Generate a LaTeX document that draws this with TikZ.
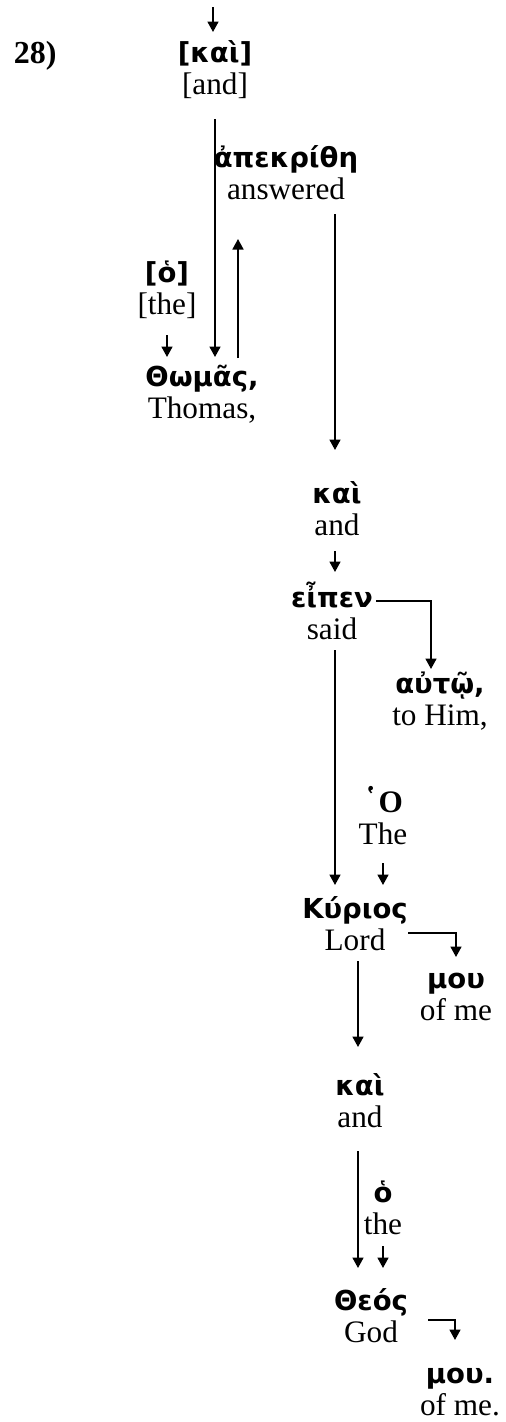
\documentclass[tikz,border=0pt]{standalone}
\usepackage{fontspec}
\setmainfont{Liberation Serif}
\newfontfamily\grk{DejaVu Sans}[Scale=0.88]
\newfontfamily\grks{DejaVu Serif}
\usetikzlibrary{arrows.meta}
\newcommand\gw[1]{{\grk\bfseries\strut\smash{#1}}}
\tikzset{
  word/.style={align=center, inner sep=0pt, font=\fontsize{12.5}{13}\selectfont},
  link/.style={-{Triangle[length=4.2pt,width=4.4pt]}, line width=0.7pt},
}
\begin{document}
\begin{tikzpicture}[x=0.4pt,y=-0.4pt]
\useasboundingbox (0,0) rectangle (506,1422);
\node[anchor=base west, font=\fontsize{12.8}{13}\selectfont\bfseries] (num) at (5,63) {28)};
% words
\node[word] (kai1) at (215,72) {\gw{[καὶ]}\\\strut[and]};
\node[word] (apekr) at (286,177) {\gw{ἀπεκρίθη}\\\strut answered};
\node[word] (ho1) at (167,292) {\gw{[ὁ]}\\\strut[the]};
\node[word] (thomas) at (202,396) {\gw{Θωμᾶς,}\\\strut Thomas,};
\node[word] (kai2) at (337,513) {\gw{καὶ}\\\strut and};
\node[word] (eipen) at (332,617) {\gw{εἶπεν}\\\strut said};
\node[word] (autw) at (440,703) {\gw{αὐτῷ,}\\\strut to Him,};
\node[word] (ho2) at (383,822) {\strut\smash{{\grks\bfseries ῾}\textbf{Ο}}\\\strut The};
\node[word] (kyrios) at (355,928) {\gw{Κύριος}\\\strut Lord};
\node[word] (mou1) at (456,998) {\gw{μου}\\\strut of me};
\node[word] (kai3) at (360,1105) {\gw{καὶ}\\\strut and};
\node[word] (ho3) at (383,1212) {\gw{ὁ}\\\strut the};
\node[word] (theos) at (371,1320) {\gw{Θεός}\\\strut God};
\node[word] (mou2) at (460,1393) {\gw{μου.}\\\strut of me.};
% links
\coordinate (top) at (213,7);
\draw[link, shorten >=2.8pt] (top) -- (top |- kai1.north);
\draw[link, shorten <=5.6pt, shorten >=2.4pt] (kai1.south) -- (kai1.south |- thomas.north);
\draw[link, shorten <=2pt, shorten >=11.6pt] ([xshift=14.4pt]thomas.north) -- ([xshift=14.4pt]thomas.north |- apekr.south);
\draw[link, shorten <=1.6pt, shorten >=12pt] ([xshift=19.6pt]apekr.south) -- ([xshift=19.6pt]apekr.south |- kai2.north);
\draw[link, shorten <=4pt, shorten >=2.4pt] (ho1.south) -- (ho1.south |- thomas.north);
\draw[link, shorten <=2pt, shorten >=4.8pt] ([xshift=-0.8pt]kai2.south) -- ([xshift=-0.8pt]kai2.south |- eipen.north);
\draw[link, shorten <=1.2pt, shorten >=0.4pt] ([yshift=6.4pt]eipen.east) -| ([xshift=-3.6pt]autw.north);
\draw[link, shorten >=4pt] ([xshift=1.2pt]eipen.south) -- ([xshift=1.2pt]eipen.south |- kyrios.north);
\draw[link, shorten <=3.2pt, shorten >=4pt] (ho2.south) -- (ho2.south |- kyrios.north);
\draw[link, shorten >=3.2pt] ([yshift=-2pt]kyrios.east) -| (mou1.north);
\draw[link, shorten >=10pt] ([xshift=1.2pt]kyrios.south) -- ([xshift=1.2pt]kyrios.south |- kai3.north);
\draw[link, shorten <=5.2pt, shorten >=7.6pt] ([xshift=-0.8pt]kai3.south) -- ([xshift=-0.8pt]kai3.south |- theos.north);
\draw[link, shorten <=0.4pt, shorten >=7.6pt] (ho3.south) -- (ho3.south |- theos.north);
\draw[link, shorten <=8pt, shorten >=8pt] (theos.east) -| ([xshift=-2pt]mou2.north);
\end{tikzpicture}
\end{document}
